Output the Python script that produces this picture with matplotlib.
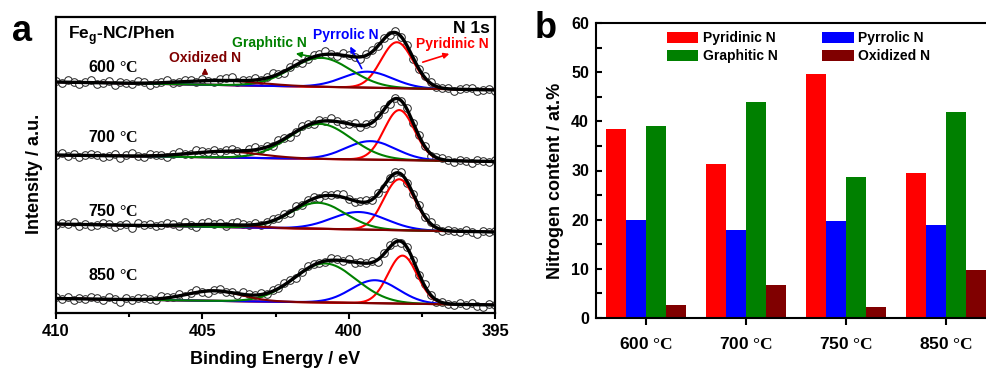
import numpy as np
import matplotlib
matplotlib.use("Agg")
import matplotlib.pyplot as plt

plt.rcParams['font.family'] = ['Liberation Sans', 'DejaVu Sans']
plt.rcParams['font.weight'] = 'bold'
plt.rcParams['mathtext.fontset'] = 'custom'
plt.rcParams['mathtext.rm'] = 'Liberation Serif'
plt.rcParams['mathtext.bf'] = 'Liberation Sans:bold'

# ---- panel b data ----
temps = ['600', '700', '750', '850']
species = ['Pyridinic N', 'Pyrrolic N', 'Graphitic N', 'Oxidized N']
pyridinic = [38.4, 31.4, 49.6, 29.4]
pyrrolic = [19.9, 18.0, 19.7, 18.9]
graphitic = [39.1, 43.9, 28.6, 41.9]
oxidized = [2.7, 6.8, 2.3, 9.8]
colors = ['#ff0000', '#0000ff', '#008000', '#800000']

# ---- panel a data: fitted peaks (center eV, height, fwhm) + linear background ----
# order: pyridinic, pyrrolic, graphitic, oxidized
peaks_600 = [(398.35, 46, 1.28), (399.35, 16, 2.0), (400.95, 29, 2.4), (404.3, 4.5, 3.0)]
peaks_700 = [(398.27, 50, 1.22), (399.25, 18.5, 2.0), (400.98, 35, 2.5), (404.2, 6, 2.8)]
peaks_750 = [(398.27, 51, 1.25), (399.65, 17.5, 2.2), (401.05, 26, 2.2), (404.5, 2.5, 2.5)]
peaks_850 = [(398.16, 48, 1.18), (399.1, 23, 1.9), (400.81, 39, 2.5), (404.6, 10, 2.2)]
bg_600 = (231, 223)   # background at 410 eV and 395 eV
bg_700 = (158, 151.5)
bg_750 = (89, 81)
bg_850 = (14.5, 8)

# measured points = fit envelope + residuals (one per 0.2 eV from 410 to 395)
res_600 = [1, -1, 2, 0, -2, 1, 3, -1, 0, 2,
           -2, 1, 0, -1, 2, 1, -2, 0, 1, 3,
           -1, 0, 2, 1, -1, 2, 0, -2, 1, 2,
           3, -1, 1, 0, 2, -1, 1, 3, 0, -2,
           1, 2, -1, 0, 2, 1, 3, 0, -1, 2,
           1, 0, -2, 1, 2, 0, 1, -1, 2, 0,
           1, -1, 0, 2, 1, -1, 0, 1, -2, 0,
           1, 2, -1, 0, 1, -1]
res_700 = [0, 2, -1, 1, -2, 0, 2, 1, -1, 0,
           2, -2, 1, 3, 0, -1, 2, 1, 0, -2,
           1, 2, 0, -1, 3, 1, 0, 2, -1, 1,
           2, 0, -2, 1, 3, 0, 1, -1, 2, 1,
           -2, 0, 2, 1, -1, 2, 0, 3, 1, -1,
           0, 2, -1, 1, 0, 2, 1, -2, 1, 0,
           2, -1, 1, 0, -2, 1, 2, 0, -1, 1,
           0, -2, 1, 0, -1, 1]
res_750 = [-1, 1, 0, 2, -2, 1, -1, 0, 2, 1,
           -2, 0, 1, -3, 2, 0, 1, -1, 0, 2,
           1, -1, 3, 0, -2, 1, 2, 0, 1, -1,
           2, 3, 1, 0, 2, -1, 1, 2, 0, 1,
           -1, 2, 0, 1, 2, -1, 1, 0, 2, 3,
           0, -1, 1, 2, 0, 1, -2, 0, 1, 2,
           -1, 0, 1, -1, 2, 0, -1, 1, 0, -1,
           1, 0, -2, 1, 0, 1]
res_850 = [1, 0, 2, -1, 1, 0, 2, 1, -1, 2,
           0, -3, 1, 0, 2, 1, 0, -1, 2, 1,
           0, 2, -1, 1, 2, 0, -2, 1, 2, 0,
           1, -1, 2, 1, 0, 2, -1, 1, 0, 2,
           1, -1, 0, 2, 1, 0, -1, 2, 1, 0,
           2, -1, 1, 0, 1, -2, 1, 2, 0, -1,
           1, 0, -1, 2, 0, -2, 1, 0, -1, 1,
           0, 2, -1, -2, 1, 0]

spectra = [(peaks_600, bg_600, res_600), (peaks_700, bg_700, res_700),
           (peaks_750, bg_750, res_750), (peaks_850, bg_850, res_850)]
line_cols = ['#ff0000', '#0000ff', '#008000', '#800000']


def gauss(x, c, h, w):
    return h * np.exp(-4 * np.log(2) * ((x - c) / w) ** 2)


def background(x, bg):
    return bg[1] + (bg[0] - bg[1]) * (x - 395) / 15.0


fig = plt.figure(figsize=(9.86, 3.72), dpi=100)

# ================= panel a =================
ax = fig.add_axes([56 / 986, 59 / 372, 439 / 986, 296 / 372])
xe = np.linspace(395, 410, 600)
xp = np.linspace(410, 395, 76)
for peaks, bg, res in spectra:
    base = background(xe, bg)
    total = base.copy()
    comps = []
    for c, h, w in peaks:
        g = gauss(xe, c, h, w)
        comps.append(g)
        total = total + g
    env_p = background(xp, bg) + sum(gauss(xp, c, h, w) for c, h, w in peaks)
    ax.scatter(xp, env_p + np.array(res), s=30, facecolors='white',
               edgecolors='#222222', linewidths=0.7, zorder=2)
    ax.plot(xe, base, color='#800000', lw=1.5, zorder=3)
    for g, col in zip(comps, line_cols):
        ax.plot(xe, base + g, color=col, lw=1.5, zorder=3)
    ax.plot(xe, total, color='black', lw=2.4, zorder=4)

ax.set_xlim(410, 395)
ax.set_ylim(0, 296)
ax.set_yticks([])
ax.set_xticks([410, 405, 400, 395])
ax.set_xticks([407.5, 402.5, 397.5], minor=True)
ax.tick_params(axis='x', which='major', direction='out', length=4, width=1.5,
               labelsize=12, pad=4)
ax.tick_params(axis='x', which='minor', direction='out', length=3, width=1.5)
for s in ax.spines.values():
    s.set_linewidth(1.6)
for lab in ax.get_xticklabels():
    lab.set_fontweight('bold')
ax.set_xlabel('Binding Energy / eV', fontsize=13, fontweight='bold')
ax.xaxis.set_label_coords(0.5, -0.128)
ax.set_ylabel('Intensity / a.u.', fontsize=13, fontweight='bold')
ax.yaxis.set_label_coords(-0.03, 0.47)

ax.text(409.59, 274, r'Fe$_{\mathbf{g}}$-NC/Phen', fontsize=12.5, fontweight='bold', va='baseline')
ax.text(395.17, 280, 'N 1s', fontsize=12.5, fontweight='bold', ha='right', va='baseline')
temp_y = [241, 171, 97, 33]
for t, ty in zip(temps, temp_y):
    ax.text(408.9, ty, t + r' $\mathrm{°C}$', fontsize=11.5, fontweight='bold', va='baseline')

ax.text(406.14, 251.3, 'Oxidized N', color='#800000', fontsize=10, fontweight='bold', va='baseline')
ax.text(403.99, 265.7, 'Graphitic N', color='#008000', fontsize=10, fontweight='bold', va='baseline')
ax.text(401.22, 273.7, 'Pyrrolic N', color='#0000ff', fontsize=10, fontweight='bold', va='baseline')
ax.text(397.7, 264.7, 'Pyridinic N', color='#ff0000', fontsize=10, fontweight='bold', va='baseline')
arrows = [((404.91, 237), (404.91, 248), '#800000'),
          ((401.05, 255), (401.9, 260), '#008000'),
          ((399.51, 242), (399.99, 269), '#0000ff'),
          ((397.56, 250), (396.47, 260), '#ff0000')]
for start, end, col in arrows:
    ax.annotate('', xy=end, xytext=start,
                arrowprops=dict(arrowstyle='-|>', color=col, lw=1.2, mutation_scale=8))

fig.text(12 / 986, 1 - 41 / 372, 'a', fontsize=26, fontweight='bold', va='baseline')

# ================= panel b =================
bx = fig.add_axes([596 / 986, 54 / 372, 400 / 986, 295 / 372])
x = np.arange(len(temps))
w = 0.2
vals = [pyridinic, pyrrolic, graphitic, oxidized]
bars = []
for i, (v, col, name) in enumerate(zip(vals, colors, species)):
    b = bx.bar(x + (i - 1.5) * w, v, width=w, color=col, label=name)
    bars.append(b)
bx.set_xlim(-0.5, 3.5)
bx.set_ylim(0, 60)
bx.set_xticks(x)
bx.set_xticklabels([t + r' $\mathrm{°C}$' for t in temps], fontsize=12.5, fontweight='bold')
bx.set_yticks(range(0, 61, 10))
bx.set_yticks(range(5, 60, 10), minor=True)
bx.tick_params(axis='x', direction='out', length=5, width=1.5, pad=8)
bx.tick_params(axis='y', which='both', direction='in', length=4, width=1.5,
               labelsize=11.5, pad=5)
for lab in bx.get_yticklabels():
    lab.set_fontweight('bold')
for s in bx.spines.values():
    s.set_linewidth(1.5)
bx.set_ylabel('Nitrogen content / at.%', fontsize=13, fontweight='bold')
bx.yaxis.set_label_coords(-0.08, 0.465)

order = [0, 2, 1, 3]
leg = bx.legend([bars[i] for i in order], [species[i] for i in order], ncol=2,
                frameon=False, loc='upper left', bbox_to_anchor=(0.145, 1.015),
                fontsize=10, handlelength=2.3, handleheight=0.8,
                handletextpad=0.3, columnspacing=3.2, labelspacing=0.3)
for t in leg.get_texts():
    t.set_fontweight('bold')

fig.text(535 / 986, 1 - 38 / 372, 'b', fontsize=26, fontweight='bold', va='baseline')

fig.savefig('out.png', dpi=100)
